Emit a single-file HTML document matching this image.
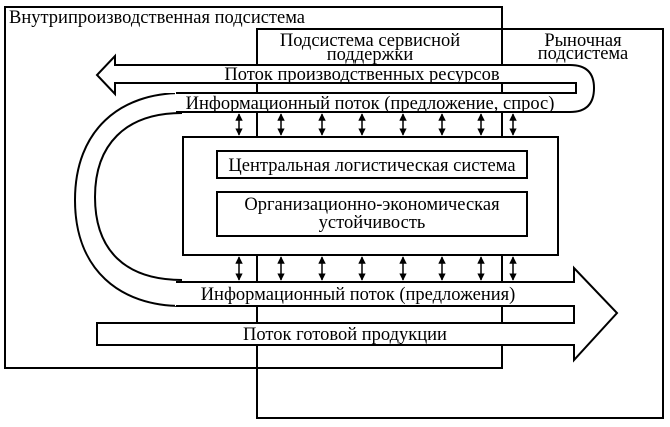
<!DOCTYPE html>
<html><head><meta charset="utf-8"><style>html,body{margin:0;padding:0;background:#fff}svg{display:block}</style></head>
<body>
<svg width="670" height="427" viewBox="0 0 670 427" xmlns="http://www.w3.org/2000/svg" font-family="'Liberation Serif', 'Noto Serif CJK SC', serif" font-size="18.5" fill="none" stroke="#000" stroke-width="2">
<defs>
<marker id="ah" viewBox="0 0 10 10" refX="9" refY="5" markerWidth="5" markerHeight="5" orient="auto-start-reverse"><path d="M0,0 L10,5 L0,10 z" fill="#000" stroke="none"/></marker>
</defs>
<rect x="5" y="7" width="497" height="361"/>
<rect x="257" y="29" width="406" height="389"/>
<!-- curve fill -->
<path d="M182,93 C 120,93 75,130 75,200 C 75,270 120,306 182,306 L182,280 C 125,280 95,250 95,197 C 95,145 125,113 182,113 Z" fill="#fff" stroke="none"/>
<path d="M182,93 C 120,93 75,130 75,200 C 75,270 120,306 182,306"/>
<path d="M182,113 C 125,113 95,145 95,197 C 95,250 125,280 182,280"/>
<!-- top U band -->
<path d="M97,75 L115,56 L115,65 L570,65 Q594,65 594,88 Q594,112 570,112 L175,112 L175,93 L115,93 L115,94 Z" fill="#fff" stroke="none"/>
<path d="M176,93 L576,93 L576,83 L115,83 L115,94 L97,75 L115,56 L115,65 L570,65 Q594,65 594,88 Q594,112 570,112 L176,112"/>
<line x1="257" y1="83" x2="257" y2="93"/><line x1="502" y1="83" x2="502" y2="93"/>
<!-- bottom band -->
<path d="M175,282 L574,282 L574,268 L617,313 L574,360 L574,345 L97,345 L97,323 L574,323 L574,306 L175,306 Z" fill="#fff" stroke="none"/>
<path d="M176,282 L574,282 L574,268 L617,313 L574,360 L574,345 L97,345 L97,323 L574,323 L574,306 L176,306"/>
<line x1="257" y1="306" x2="257" y2="323"/><line x1="502" y1="306" x2="502" y2="323"/>
<!-- central -->
<rect x="183" y="137" width="375" height="118" fill="#fff"/>
<rect x="217" y="151" width="310" height="27"/>
<rect x="217" y="192" width="310" height="44"/>
<g stroke-width="1.5">
<line x1="239" y1="114" x2="239" y2="135" marker-start="url(#ah)" marker-end="url(#ah)"/>
<line x1="281" y1="114" x2="281" y2="135" marker-start="url(#ah)" marker-end="url(#ah)"/>
<line x1="322" y1="114" x2="322" y2="135" marker-start="url(#ah)" marker-end="url(#ah)"/>
<line x1="362" y1="114" x2="362" y2="135" marker-start="url(#ah)" marker-end="url(#ah)"/>
<line x1="403" y1="114" x2="403" y2="135" marker-start="url(#ah)" marker-end="url(#ah)"/>
<line x1="442" y1="114" x2="442" y2="135" marker-start="url(#ah)" marker-end="url(#ah)"/>
<line x1="481" y1="114" x2="481" y2="135" marker-start="url(#ah)" marker-end="url(#ah)"/>
<line x1="513" y1="114" x2="513" y2="135" marker-start="url(#ah)" marker-end="url(#ah)"/>
<line x1="239" y1="257" x2="239" y2="280" marker-start="url(#ah)" marker-end="url(#ah)"/>
<line x1="281" y1="257" x2="281" y2="280" marker-start="url(#ah)" marker-end="url(#ah)"/>
<line x1="322" y1="257" x2="322" y2="280" marker-start="url(#ah)" marker-end="url(#ah)"/>
<line x1="362" y1="257" x2="362" y2="280" marker-start="url(#ah)" marker-end="url(#ah)"/>
<line x1="403" y1="257" x2="403" y2="280" marker-start="url(#ah)" marker-end="url(#ah)"/>
<line x1="442" y1="257" x2="442" y2="280" marker-start="url(#ah)" marker-end="url(#ah)"/>
<line x1="481" y1="257" x2="481" y2="280" marker-start="url(#ah)" marker-end="url(#ah)"/>
<line x1="513" y1="257" x2="513" y2="280" marker-start="url(#ah)" marker-end="url(#ah)"/>
</g>
<line x1="257" y1="112" x2="257" y2="137"/><line x1="502" y1="112" x2="502" y2="137"/>
<line x1="257" y1="255" x2="257" y2="282"/><line x1="502" y1="255" x2="502" y2="282"/>
<g fill="#000" stroke="none">
<text x="9" y="23">Внутрипроизводственная подсистема</text>
<text x="370" y="46" text-anchor="middle">Подсистема сервисной</text>
<text x="370" y="60" text-anchor="middle">поддержки</text>
<text x="583" y="46" text-anchor="middle">Рыночная</text>
<text x="583" y="59" text-anchor="middle">подсистема</text>
<text x="362" y="80" text-anchor="middle">Поток производственных ресурсов</text>
<text x="370" y="109" text-anchor="middle">Информационный поток (предложение, спрос)</text>
<text x="372" y="171" text-anchor="middle">Центральная логистическая система</text>
<text x="372" y="210" text-anchor="middle">Организационно-экономическая</text>
<text x="372" y="228" text-anchor="middle">устойчивость</text>
<text x="358" y="300" text-anchor="middle">Информационный поток (предложения)</text>
<text x="345" y="340" text-anchor="middle">Поток готовой продукции</text>
</g>
</svg>
</body></html>
